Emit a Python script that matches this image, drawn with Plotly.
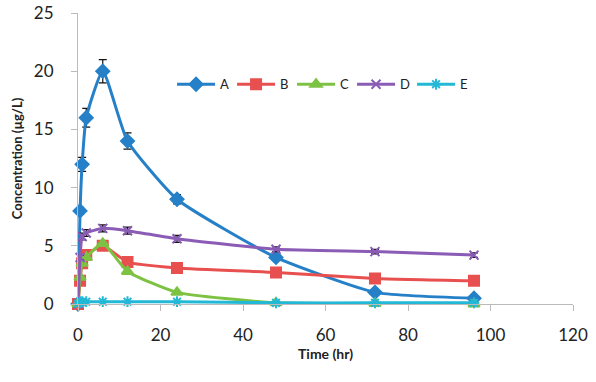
import plotly.graph_objects as go

time = [0, 0.5, 1, 2, 6, 12, 24, 48, 72, 96]
A = [0, 8, 12, 16, 20, 14, 9, 4, 1, 0.5]
B = [0, 2.0, 3.5, 4.2, 5.0, 3.6, 3.1, 2.7, 2.2, 2.0]
C = [0, 2.3, 3.5, 4.0, 5.2, 2.8, 1.0, 0.1, 0.05, 0]
D = [0, 4.0, 5.8, 6.1, 6.5, 6.3, 5.6, 4.7, 4.5, 4.2]
E = [0, 0.2, 0.2, 0.2, 0.2, 0.2, 0.2, 0.1, 0.1, 0.1]
A_err = [0, 0.3, 0.6, 0.8, 1.0, 0.7, 0.4, 0.2, 0.2, 0.1]
D_err = [0, 0.2, 0.3, 0.3, 0.3, 0.3, 0.3, 0.2, 0.2, 0.2]

x_ticks = [0, 20, 40, 60, 80, 100, 120]
y_ticks = [0, 5, 10, 15, 20, 25]

series = [
    ("A", A, "#2580C8", "diamond", 10, A_err),
    ("B", B, "#E8504F", "square", 10, None),
    ("C", C, "#7DC243", "triangle-up", 10, None),
    ("D", D, "#8A5CB5", "x-thin-open", 9, D_err),
    ("E", E, "#22B8D6", "asterisk-open", 9, None),
]

fig = go.Figure()
for name, vals, color, sym, size, err in series:
    kw = {}
    if err is not None:
        kw["error_y"] = dict(type="data", array=err, visible=True,
                             color="#111111", thickness=1.2, width=4)
    fig.add_trace(go.Scatter(
        x=time, y=vals, name=name, mode="lines+markers",
        line=dict(color=color, width=3, shape="spline", smoothing=0.5),
        marker=dict(symbol=sym, size=size, color=color,
                    line=dict(color=color, width=2)),
        cliponaxis=False, **kw))

fig.update_layout(
    width=596, height=382,
    margin=dict(l=78, r=23, t=13, b=78),
    paper_bgcolor="white", plot_bgcolor="white",
    font=dict(family="Lato, Open Sans, sans-serif", color="#222222"),
    showlegend=True,
    legend=dict(orientation="h", x=0.19, y=0.755, xanchor="left", yanchor="middle",
                font=dict(size=13, color="#222222"), bgcolor="rgba(0,0,0,0)",
                entrywidth=7, entrywidthmode="pixels", itemwidth=38),
)
fig.update_xaxes(
    range=[0, 120], tickvals=x_ticks, ticktext=[str(v) for v in x_ticks],
    showgrid=False, zeroline=False, showline=True, linecolor="#BBBBBB", linewidth=1,
    ticks="outside", ticklen=6, tickcolor="#BBBBBB", automargin=False,
    ticklabelstandoff=10,
    tickfont=dict(size=17, color="#222222"),
    title=dict(text="<b>Time (hr)</b>", font=dict(size=14, color="#222222"), standoff=4),
)
fig.update_yaxes(
    range=[0, 25], tickvals=y_ticks, ticktext=[str(v) for v in y_ticks],
    showgrid=False, zeroline=False, showline=True, linecolor="#BBBBBB", linewidth=1,
    ticks="outside", ticklen=6, tickcolor="#BBBBBB", automargin=False,
    ticklabelstandoff=14,
    tickfont=dict(size=17, color="#222222"),
    title=dict(text="<b>Concentration (µg/L)</b>", font=dict(size=13, color="#222222"), standoff=8),
)

fig.write_html("out.html", config={"displayModeBar": False},
               post_script="document.body.style.margin='0';")
